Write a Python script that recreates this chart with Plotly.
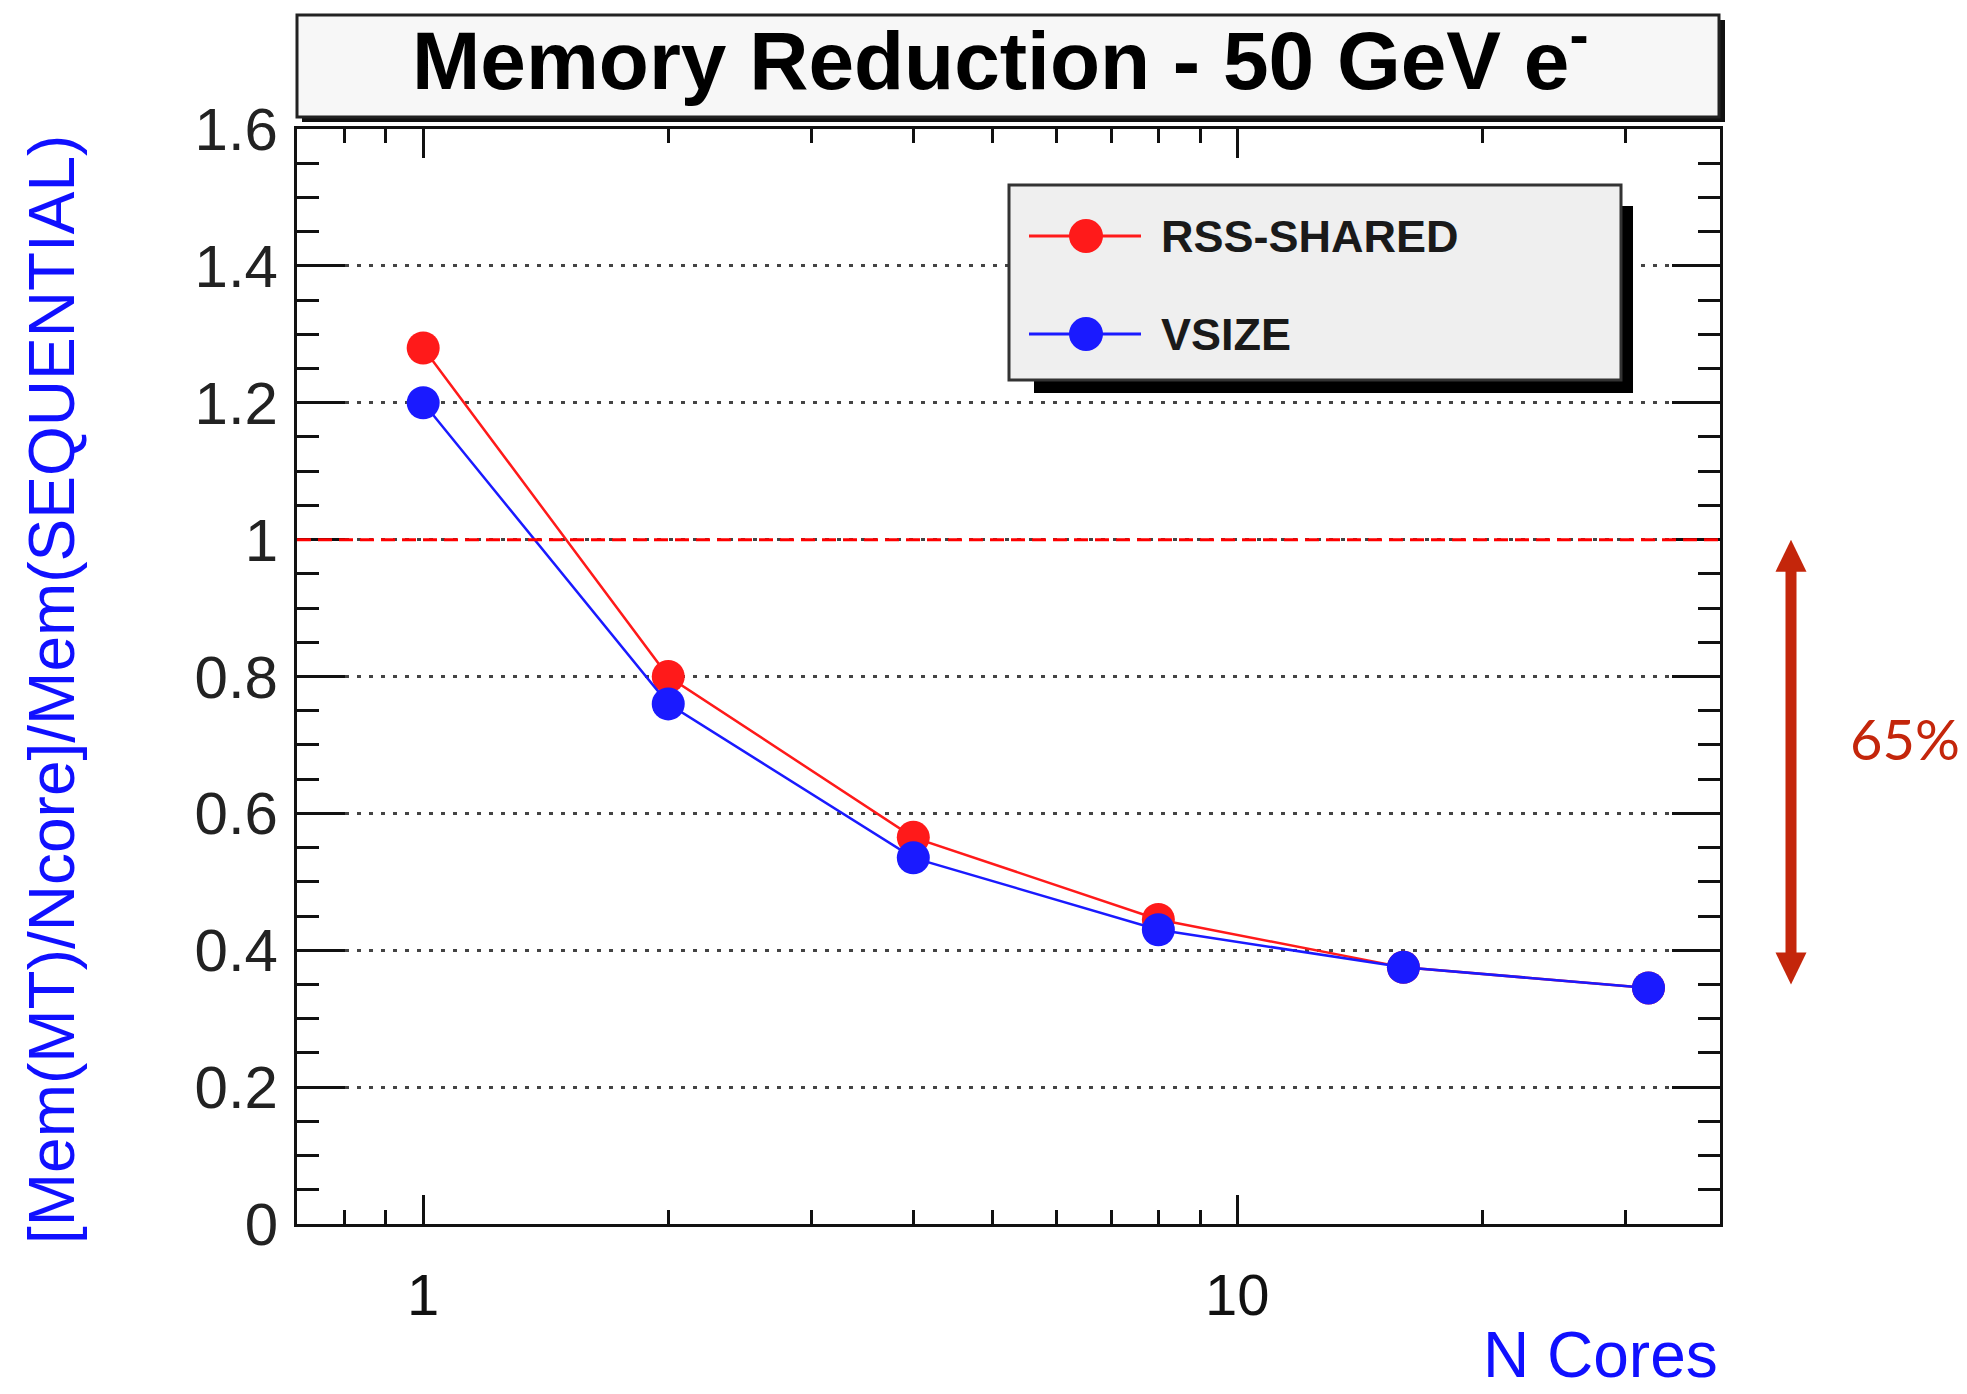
import plotly.graph_objects as go

# ---------------- data ----------------
n_cores = [1, 2, 4, 8, 16, 32]
rss_shared = [1.28, 0.80, 0.565, 0.445, 0.375, 0.345]
vsize = [1.20, 0.76, 0.535, 0.430, 0.375, 0.345]
series_names = ["RSS-SHARED", "VSIZE"]
series_colors = ["#ff1a1a", "#1a1aff"]
y_tickvals = [0, 0.2, 0.4, 0.6, 0.8, 1.0, 1.2, 1.4, 1.6]
y_ticktext = ["0", "0.2", "0.4", "0.6", "0.8", "1", "1.2", "1.4", "1.6"]
x_tickvals = [1, 10]
x_ticktext = ["1", "10"]
reference_level = 1.0
reduction_top = 1.0
reduction_bottom = 0.35
reduction_label = "65%"
title_text = "Memory Reduction - 50 GeV e<sup>-</sup>"
x_title = "N Cores"
y_title = "[Mem(MT)/Ncore]/Mem(SEQUENTIAL)"

# ---------------- geometry helpers ----------------
W, H = 1967, 1394
L, R, T, B = 297, 1720, 129, 1224
Y_MAX = 1.6


def px(x):
    return (x - L) / (R - L)


def py(y):
    return (B - y) / (B - T)


FONT = "Liberation Sans, Arial, Helvetica, sans-serif"
ARROW_RED = "#c4260b"

fig = go.Figure()
for name, vals, col in zip(series_names, [rss_shared, vsize], series_colors):
    fig.add_trace(go.Scatter(
        x=n_cores, y=vals, name=name, mode="lines+markers",
        line=dict(color=col, width=2.5),
        marker=dict(color=col, size=33),
        showlegend=False,
    ))

minor_x = [0.8, 0.9] + [float(d) for d in range(2, 10)] + [20.0, 30.0]

fig.update_xaxes(
    type="log", range=[-0.155, 1.593],
    tickmode="array", tickvals=x_tickvals, ticktext=x_ticktext,
    ticks="inside", ticklen=29, tickwidth=2.5, tickcolor="#111",
    minor=dict(tickmode="array", tickvals=minor_x, ticks="inside", ticklen=14,
               tickwidth=2.5, tickcolor="#111", showgrid=False),
    showline=True, linewidth=3, linecolor="#111", mirror="ticks",
    showgrid=False, zeroline=False,
    tickfont=dict(family=FONT, size=58, color="#111"),
    ticklabelstandoff=18,
)
fig.update_yaxes(
    range=[0, Y_MAX],
    tickmode="array", tickvals=y_tickvals, ticktext=y_ticktext,
    ticks="inside", ticklen=48, tickwidth=2.5, tickcolor="#111",
    minor=dict(dtick=0.05, tick0=0, ticks="inside", ticklen=22,
               tickwidth=2.5, tickcolor="#111", showgrid=False),
    showline=True, linewidth=3, linecolor="#111", mirror="ticks",
    showgrid=True, gridcolor="#444", gridwidth=2.5, griddash="4px,8px",
    zeroline=False,
    tickfont=dict(family=FONT, size=60, color="#222"),
    ticklabelstandoff=4,
)

shapes = []
# reference line at 1
shapes.append(dict(type="line", xref="paper", x0=0, x1=1, yref="y",
                   y0=reference_level, y1=reference_level,
                   line=dict(color="#ff0000", width=3, dash="14px,7px"),
                   layer="above"))
# title box with shadow
shapes.append(dict(type="rect", xref="paper", yref="paper",
                   x0=px(302), x1=px(1725), y0=py(122), y1=py(20),
                   fillcolor="#111", line=dict(width=0), layer="above"))
shapes.append(dict(type="rect", xref="paper", yref="paper",
                   x0=px(297), x1=px(1719), y0=py(117), y1=py(15),
                   fillcolor="#f7f7f7", line=dict(color="#222", width=3), layer="above"))
# legend box with shadow
shapes.append(dict(type="rect", xref="paper", yref="paper",
                   x0=px(1034), x1=px(1633), y0=py(393), y1=py(206),
                   fillcolor="#000", line=dict(width=0), layer="above"))
shapes.append(dict(type="rect", xref="paper", yref="paper",
                   x0=px(1009), x1=px(1621), y0=py(380), y1=py(185),
                   fillcolor="#efefef", line=dict(color="#333", width=3), layer="above"))
legend_rows = [236, 334]
for row_y, col in zip(legend_rows, series_colors):
    shapes.append(dict(type="line", xref="paper", yref="paper",
                       x0=px(1029), x1=px(1141), y0=py(row_y), y1=py(row_y),
                       line=dict(color=col, width=3), layer="above"))
    shapes.append(dict(type="circle", xref="paper", yref="paper",
                       x0=px(1069), x1=px(1103), y0=py(row_y + 17), y1=py(row_y - 17),
                       fillcolor=col, line=dict(width=0), layer="above"))

# double-headed reduction arrow (shaft + two triangular heads)
ax_x = px(1791)
head_h = 32 / (B - T) * Y_MAX       # head length in data units
head_w = 15.5 / (R - L)             # half head width in paper units
shapes.append(dict(type="line", xref="paper", yref="y",
                   x0=ax_x, x1=ax_x,
                   y0=reduction_bottom + head_h * 0.9, y1=reduction_top - head_h * 0.9,
                   line=dict(color=ARROW_RED, width=11), layer="above"))
shapes.append(dict(type="path", xref="paper", yref="y",
                   path=(f"M{ax_x - head_w},{reduction_top - head_h} "
                         f"L{ax_x + head_w},{reduction_top - head_h} "
                         f"L{ax_x},{reduction_top} Z"),
                   fillcolor=ARROW_RED, line=dict(width=0), layer="above"))
shapes.append(dict(type="path", xref="paper", yref="y",
                   path=(f"M{ax_x - head_w},{reduction_bottom + head_h} "
                         f"L{ax_x + head_w},{reduction_bottom + head_h} "
                         f"L{ax_x},{reduction_bottom} Z"),
                   fillcolor=ARROW_RED, line=dict(width=0), layer="above"))

annotations = []
for row_y, name in zip(legend_rows, series_names):
    annotations.append(dict(xref="paper", yref="paper", x=px(1159), y=py(row_y),
                            xanchor="left", yanchor="middle", showarrow=False,
                            text=name, font=dict(family=FONT, size=45, color="#1a1a1a",
                                                 weight="bold")))
# title
annotations.append(dict(xref="paper", yref="paper", x=px(1000), y=py(55),
                        xanchor="center", yanchor="middle", showarrow=False,
                        text=title_text,
                        font=dict(family=FONT, size=82, color="#000", weight="bold")))
# axis titles
annotations.append(dict(xref="paper", yref="paper", x=1.0, y=py(1393),
                        xanchor="right", yanchor="bottom", showarrow=False,
                        text=x_title, font=dict(family=FONT, size=64, color="#1010ff")))
annotations.append(dict(xref="paper", yref="paper", x=px(52), y=py(690),
                        xanchor="center", yanchor="middle", showarrow=False,
                        textangle=-90, text=y_title,
                        font=dict(family=FONT, size=64, color="#1010ff")))
annotations.append(dict(xref="paper", yref="paper", x=px(1905), y=py(738),
                        xanchor="center", yanchor="middle", showarrow=False,
                        text=reduction_label,
                        font=dict(family="Lato, Noto Sans, sans-serif", size=56, color=ARROW_RED)))

fig.update_layout(
    width=W, height=H,
    margin=dict(l=L, r=W - R, t=T, b=H - B, autoexpand=False),
    paper_bgcolor="white", plot_bgcolor="white",
    shapes=shapes, annotations=annotations,
    showlegend=False,
)

fig.write_html("out.html")
